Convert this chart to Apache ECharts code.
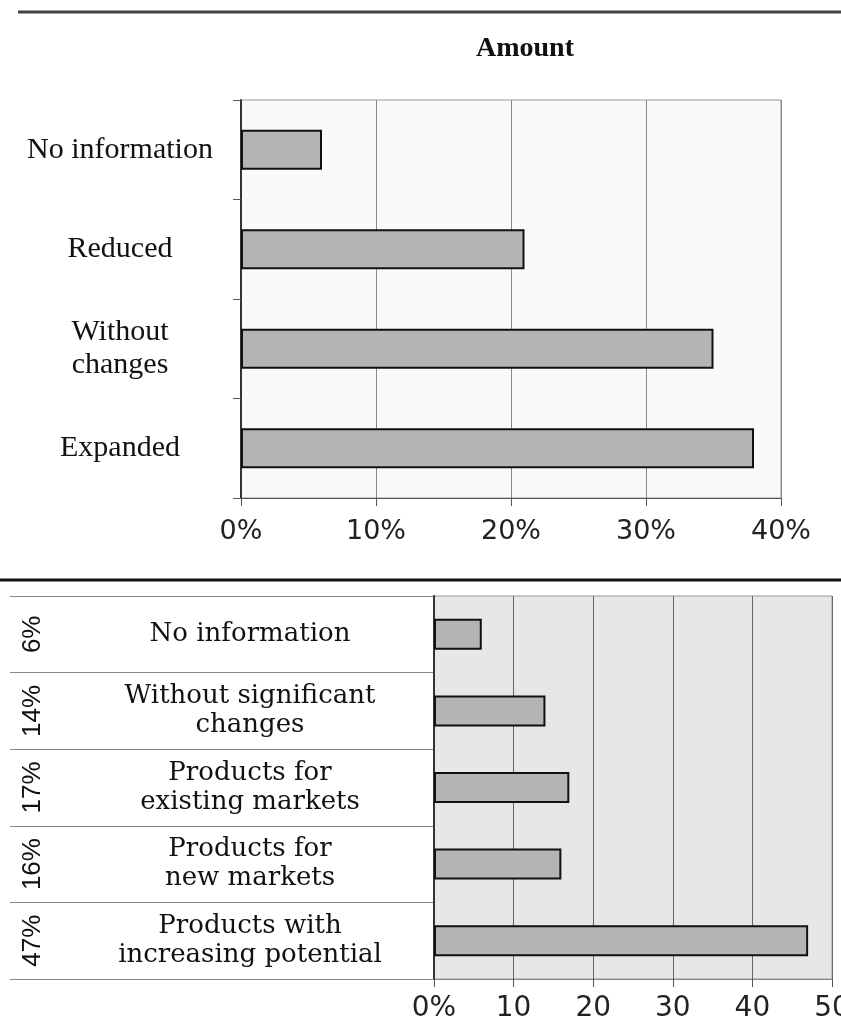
<!DOCTYPE html>
<html>
<head>
<meta charset="utf-8">
<script src="https://cdn.jsdelivr.net/npm/echarts@6/dist/echarts.min.js"></script>
<style>
html,body{margin:0;padding:0;background:#fff;}
#chart{width:841px;height:1020px;}
</style>
</head>
<body>
<div id="chart"></div>
<script>
// Top chart data
var topTitle = 'Amount';
var topCategories = ['No information', 'Reduced', 'Without\nchanges', 'Expanded'];
var topValues = [6, 21, 35, 38];
var topTicks = ['0%', '10%', '20%', '30%', '40%'];

// Bottom chart data
var bottomCategories = ['No information', 'Without significant\nchanges', 'Products for\nexisting markets', 'Products for\nnew markets', 'Products with\nincreasing potential'];
var bottomValues = [6, 14, 17, 16, 47];
var bottomPercentLabels = ['6%', '14%', '17%', '16%', '47%'];
var bottomTicks = ['0%', '10', '20', '30', '40', '50'];

var chart = echarts.init(document.getElementById('chart'), null, {renderer: 'canvas'});

var option = {
  backgroundColor: '#ffffff',
  animation: false,
  title: {
    text: topTitle,
    left: 520,
    top: 30,
    textAlign: 'center',
    textStyle: {fontFamily: 'Liberation Serif', fontWeight: 'bold', fontSize: 28, color: '#111'}
  },
  graphic: [
    {type: 'line', shape: {x1: 18, y1: 12, x2: 841, y2: 12}, style: {stroke: '#444', lineWidth: 3}},
    {type: 'line', shape: {x1: 0, y1: 580, x2: 841, y2: 580}, style: {stroke: '#111', lineWidth: 3}}
  ],
  grid: [
    {left: 241, top: 100, width: 540, height: 398, show: true, backgroundColor: '#fafafa', borderColor: '#999', borderWidth: 1, containLabel: false, outerBoundsMode: 'none'},
    {left: 434, top: 596, width: 398, height: 383, show: true, backgroundColor: '#e7e7e7', borderColor: '#999', borderWidth: 1, containLabel: false, outerBoundsMode: 'none'},
    {left: 10, top: 596, width: 424, height: 383, show: false, containLabel: false, outerBoundsMode: 'none'}
  ],
  xAxis: [
    {
      type: 'value', gridIndex: 0, min: 0, max: 40, interval: 10,
      axisLine: {show: true, lineStyle: {color: '#555', width: 1}},
      axisTick: {show: true, length: 8, lineStyle: {color: '#555'}},
      splitLine: {show: true, lineStyle: {color: '#888', width: 1}},
      axisLabel: {
        margin: 20, fontFamily: 'DejaVu Sans', fontSize: 27, color: '#222',
        formatter: function (v) { return topTicks[Math.round(v / 10)]; }
      }
    },
    {
      type: 'value', gridIndex: 1, min: 0, max: 50, interval: 10,
      axisLine: {show: true, lineStyle: {color: '#888', width: 1}},
      axisTick: {show: true, length: 8, lineStyle: {color: '#555'}},
      splitLine: {show: true, lineStyle: {color: '#666', width: 1}},
      axisLabel: {
        margin: 16, fontFamily: 'DejaVu Sans', fontSize: 28, color: '#222', hideOverlap: false,
        formatter: function (v) { return bottomTicks[Math.round(v / 10)]; }
      }
    },
    {type: 'value', gridIndex: 2, min: 0, max: 1, show: false}
  ],
  yAxis: [
    {
      type: 'category', gridIndex: 0, inverse: true, data: topCategories,
      axisLine: {show: true, lineStyle: {color: '#333', width: 2}},
      axisTick: {show: true, length: 8, lineStyle: {color: '#555'}},
      splitLine: {show: false},
      axisLabel: {
        margin: 121, align: 'center', fontFamily: 'Liberation Serif', fontSize: 30,
        lineHeight: 33, color: '#111'
      }
    },
    {
      type: 'category', gridIndex: 1, inverse: true, position: 'left', data: bottomCategories,
      axisLine: {show: true, lineStyle: {color: '#333', width: 2}},
      axisTick: {show: false},
      splitLine: {show: false},
      axisLabel: {
        margin: 184, align: 'center', fontFamily: 'DejaVu Serif', fontSize: 26,
        lineHeight: 29, color: '#111'
      }
    },
    {
      type: 'category', gridIndex: 1, inverse: true, position: 'left', offset: 0, data: bottomPercentLabels,
      axisLine: {show: false}, axisTick: {show: false}, splitLine: {show: false},
      axisLabel: {
        margin: 401, rotate: 90, align: 'center', verticalAlign: 'middle',
        fontFamily: 'Liberation Sans', fontSize: 26, color: '#111', interval: 0
      }
    },
    {
      type: 'category', gridIndex: 2, inverse: true, data: bottomCategories,
      axisLine: {show: false}, axisTick: {show: false}, axisLabel: {show: false},
      splitLine: {show: true, interval: 0, lineStyle: {color: '#888', width: 1}}
    }
  ],
  series: [
    {
      type: 'bar', xAxisIndex: 0, yAxisIndex: 0, data: topValues, barWidth: 40,
      itemStyle: {color: '#b4b4b4', borderColor: '#111', borderWidth: 2},
      silent: true
    },
    {
      type: 'bar', xAxisIndex: 1, yAxisIndex: 1, data: bottomValues, barWidth: 31,
      itemStyle: {color: '#b4b4b4', borderColor: '#111', borderWidth: 2},
      silent: true
    }
  ]
};
chart.setOption(option);
</script>
</body>
</html>
